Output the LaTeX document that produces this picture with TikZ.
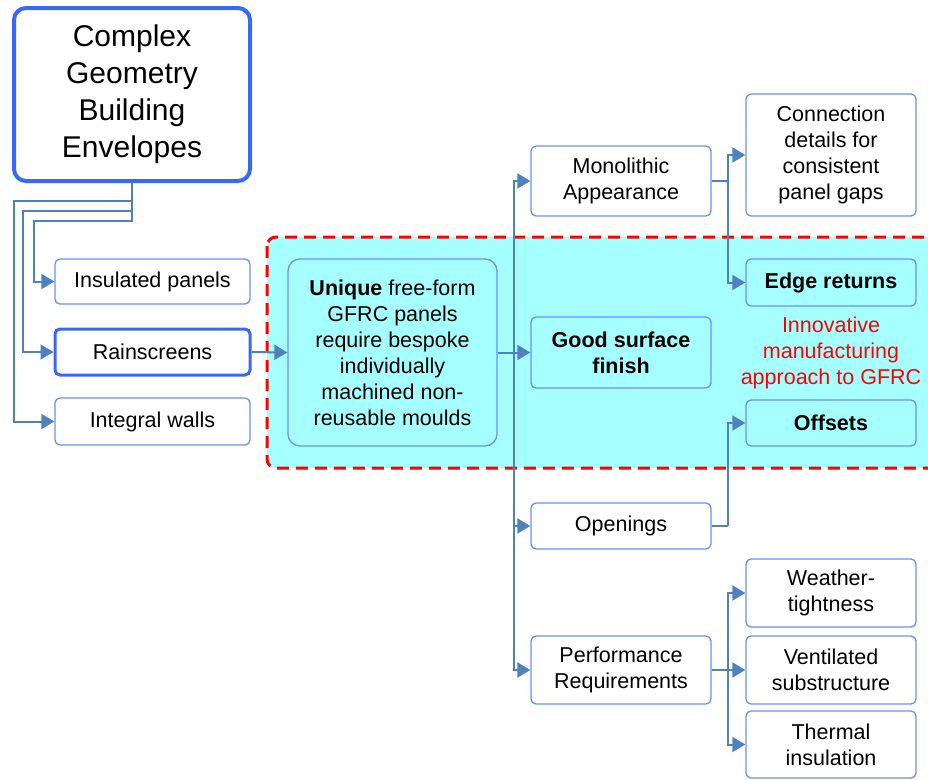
\documentclass[tikz,border=0pt]{standalone}
\usepackage{fontspec}
\setmainfont{Liberation Sans}
\usetikzlibrary{arrows.meta}
\definecolor{boxline}{RGB}{105,145,240}
\definecolor{strongline}{RGB}{55,105,245}
\definecolor{connc}{RGB}{79,129,189}
\definecolor{cyanfill}{RGB}{166,255,255}
\definecolor{redline}{RGB}{255,0,0}
\tikzset{
  bx/.style={draw=boxline, line width=1.3pt, rounded corners=5pt, fill=white, inner sep=0pt, align=center, font=\fontsize{21.5}{26}\selectfont},
  bxc/.style={bx, fill=cyanfill},
  strongbox/.style={bx, draw=strongline, line width=3pt},
  conn/.style={draw=connc, line width=2pt},
  arr/.style={conn, -{Triangle[length=13pt,width=15pt]}},
}
\begin{document}
\begin{tikzpicture}[x=1pt,y=-1pt]
\useasboundingbox (0,0) rectangle (928,779);
\fill[white] (0,0) rectangle (928,779);
% highlighted region
\draw[redline, line width=3pt, dash pattern=on 12pt off 7pt, fill=cyanfill, rounded corners=9pt] (267,237) rectangle (945,468);
% nodes
\node[strongbox, line width=4pt, rounded corners=12pt, minimum width=236pt, minimum height=173pt, font=\fontsize{30}{37}\selectfont] (top) at (132,94.5) {Complex\\Geometry\\Building\\Envelopes};
\node[bx, minimum width=195pt, minimum height=45pt] (ins) at (152.5,281.5) {Insulated panels};
\node[strongbox, minimum width=195pt, minimum height=46pt] (rain) at (152.5,352) {Rainscreens};
\node[bx, minimum width=195pt, minimum height=47pt] (integ) at (152.5,421.5) {Integral walls};
\node[bxc, rounded corners=12pt, minimum width=209pt, minimum height=187pt] (uniq) at (392.5,352.5) {\textbf{Unique} free-form\\GFRC panels\\require bespoke\\individually\\machined non-\\reusable moulds};
\node[bx, minimum width=180pt, minimum height=70pt] (mono) at (621,181) {Monolithic\\Appearance};
\node[bxc, minimum width=180pt, minimum height=71pt] (good) at (621,352.5) {\textbf{Good surface}\\\textbf{finish}};
\node[bx, minimum width=180pt, minimum height=46pt] (open) at (621,526) {Openings};
\node[bx, minimum width=180pt, minimum height=68pt] (perf) at (621,670) {Performance\\Requirements};
\node[bx, minimum width=170pt, minimum height=122pt] (con) at (831,155) {Connection\\details for\\consistent\\panel gaps};
\node[bxc, minimum width=170pt, minimum height=47pt] (edge) at (831,282.5) {\textbf{Edge returns}};
\node[text=redline, align=center, inner sep=0pt, font=\fontsize{21.5}{26}\selectfont] (innov) at (831,353) {Innovative\\manufacturing\\approach to GFRC};
\node[bxc, minimum width=170pt, minimum height=46pt] (offs) at (831,423) {\textbf{Offsets}};
\node[bx, minimum width=170pt, minimum height=68pt] (weat) at (831,593) {Weather-\\tightness};
\node[bx, minimum width=170pt, minimum height=68pt] (vent) at (831,670) {Ventilated\\substructure};
\node[bx, minimum width=170pt, minimum height=67pt] (therm) at (831,744.5) {Thermal\\insulation};
% connectors from top box
\draw[arr] (top.south) -- ++(0,18) -| ([xshift=-40pt]integ.west) -- (integ.west);
\draw[arr] (top.south) -- ++(0,28) -| ([xshift=-31pt]rain.west) -- (rain.west);
\draw[arr] (top.south) -- ++(0,38) -| ([xshift=-20pt]ins.west) -- (ins.west);
\draw[arr] (rain.east) -- (uniq.west);
% trunk
\coordinate (tr) at (514,352.5);
\draw[arr] (uniq.east) -- (good.west);
\draw[arr] (tr) |- (mono.west);
\draw[arr] (tr) |- (open.west);
\draw[arr] (tr) |- (perf.west);
% right branches
\coordinate (m1) at (728,181);
\draw[conn] (mono.east) -- (m1);
\draw[arr] (m1) |- (con.west);
\draw[arr] (m1) |- (edge.west);
\coordinate (o1) at (728,526);
\draw[conn] (open.east) -- (o1);
\draw[arr] (o1) |- (offs.west);
\coordinate (p1) at (728,670);
\draw[conn] (perf.east) -- (p1);
\draw[arr] (p1) |- (weat.west);
\draw[arr] (p1) -- (vent.west);
\draw[arr] (p1) |- (therm.west);
\end{tikzpicture}
\end{document}
